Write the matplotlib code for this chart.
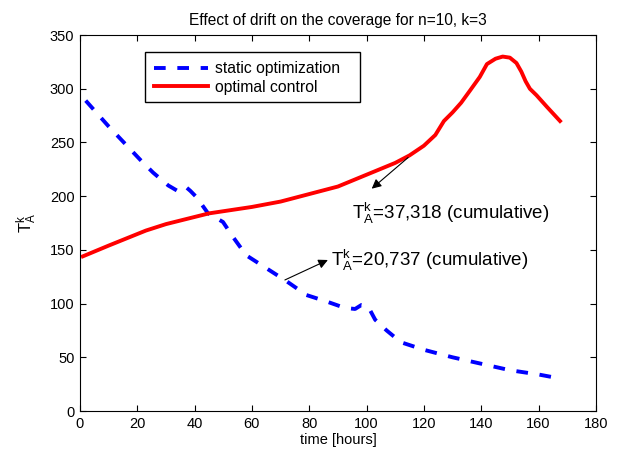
import matplotlib
matplotlib.use("Agg")
import matplotlib.pyplot as plt
from matplotlib.patches import Rectangle

plt.rcParams['font.family'] = ['Liberation Sans', 'DejaVu Sans']
plt.rcParams['mathtext.fontset'] = 'custom'
plt.rcParams['mathtext.rm'] = 'Liberation Sans'
plt.rcParams['mathtext.it'] = 'Liberation Sans'

title = "Effect of drift on the coverage for n=10, k=3"
xlabel = "time [hours]"
ylabel = r"$\mathrm{T}_{\mathrm{A}}^{\mathrm{k}}$"

static_x = [2, 10, 21, 25.5, 30.8, 34, 36, 37.2, 38.5, 40.7, 44.7, 49.9, 53.4, 58, 65, 72,
            79, 86, 92.4, 96, 98.2, 100, 101, 103, 107, 112, 120, 130, 140, 150, 160, 168]
static_y = [289, 265, 234, 222, 210, 205, 205, 208, 205, 199, 184, 176, 162, 145, 133, 121,
            108, 102, 96, 95, 98.7, 98, 95, 85, 75, 64, 57, 50, 44, 38, 34, 30]

opt_x = [1, 10, 23, 30, 45, 60, 70, 80, 90, 100, 110, 115, 120, 124, 127, 130, 133, 136,
         139.5, 142, 145, 147.5, 150, 152.3, 154, 155.5, 157, 159.3, 163, 167.5]
opt_y = [144, 154, 168, 174, 184, 190, 195, 202, 209, 220, 231, 238, 247, 257, 270, 278,
         287, 298, 311, 323, 328, 330, 329, 324, 316, 307, 300, 294, 283, 270]

legend_labels = ["static optimization", "optimal control"]
ann1_text = r"$\mathrm{T}_{\mathrm{A}}^{\mathrm{k}}$=37,318 (cumulative)"
ann2_text = r"$\mathrm{T}_{\mathrm{A}}^{\mathrm{k}}$=20,737 (cumulative)"

fig = plt.figure(figsize=(6.2, 4.54), dpi=100)
ax = fig.add_axes([0.129, 0.0947, 0.832, 0.828])

ax.plot(static_x, static_y, color='blue', lw=2.8, linestyle=(0, (3, 3)),
        label=legend_labels[0])
ax.plot(opt_x, opt_y, color='red', lw=2.8, label=legend_labels[1])

ax.set_xlim(0, 180)
ax.set_ylim(0, 350)
ax.set_xticks(range(0, 181, 20))
ax.set_yticks(range(0, 351, 50))
ax.tick_params(direction='in', top=True, right=True, labelsize=10.5, length=4, pad=4)
ax.set_title(title, fontsize=11.2, pad=7)
ax.set_xlabel(xlabel, fontsize=10.5, labelpad=2)
ax.set_ylabel(ylabel, fontsize=12, labelpad=8)

arrow_kw = dict(arrowstyle='-|>', color='black', lw=0.8,
                shrinkA=0, shrinkB=0, mutation_scale=14)
ax.text(95, 184, ann1_text, fontsize=13.5, va='center', ha='left')
ax.annotate("", xy=(101.8, 207), xytext=(114.5, 236), arrowprops=arrow_kw)
ax.text(87.5, 140, ann2_text, fontsize=13.5, va='center', ha='left')
ax.annotate("", xy=(86.5, 140.6), xytext=(71.5, 122), arrowprops=arrow_kw)

ax.add_patch(Rectangle((0.126, 0.822), 0.417, 0.133, transform=ax.transAxes,
                       facecolor='white', edgecolor='black', lw=1.0, zorder=4))
leg = ax.legend(loc='upper left', bbox_to_anchor=(0.126, 0.955), fontsize=11.3,
                frameon=False, handlelength=3.4, handletextpad=0.45,
                borderpad=0.6, borderaxespad=0, labelspacing=0.2)
leg.set_zorder(5)

fig.savefig("out.png", dpi=100)
